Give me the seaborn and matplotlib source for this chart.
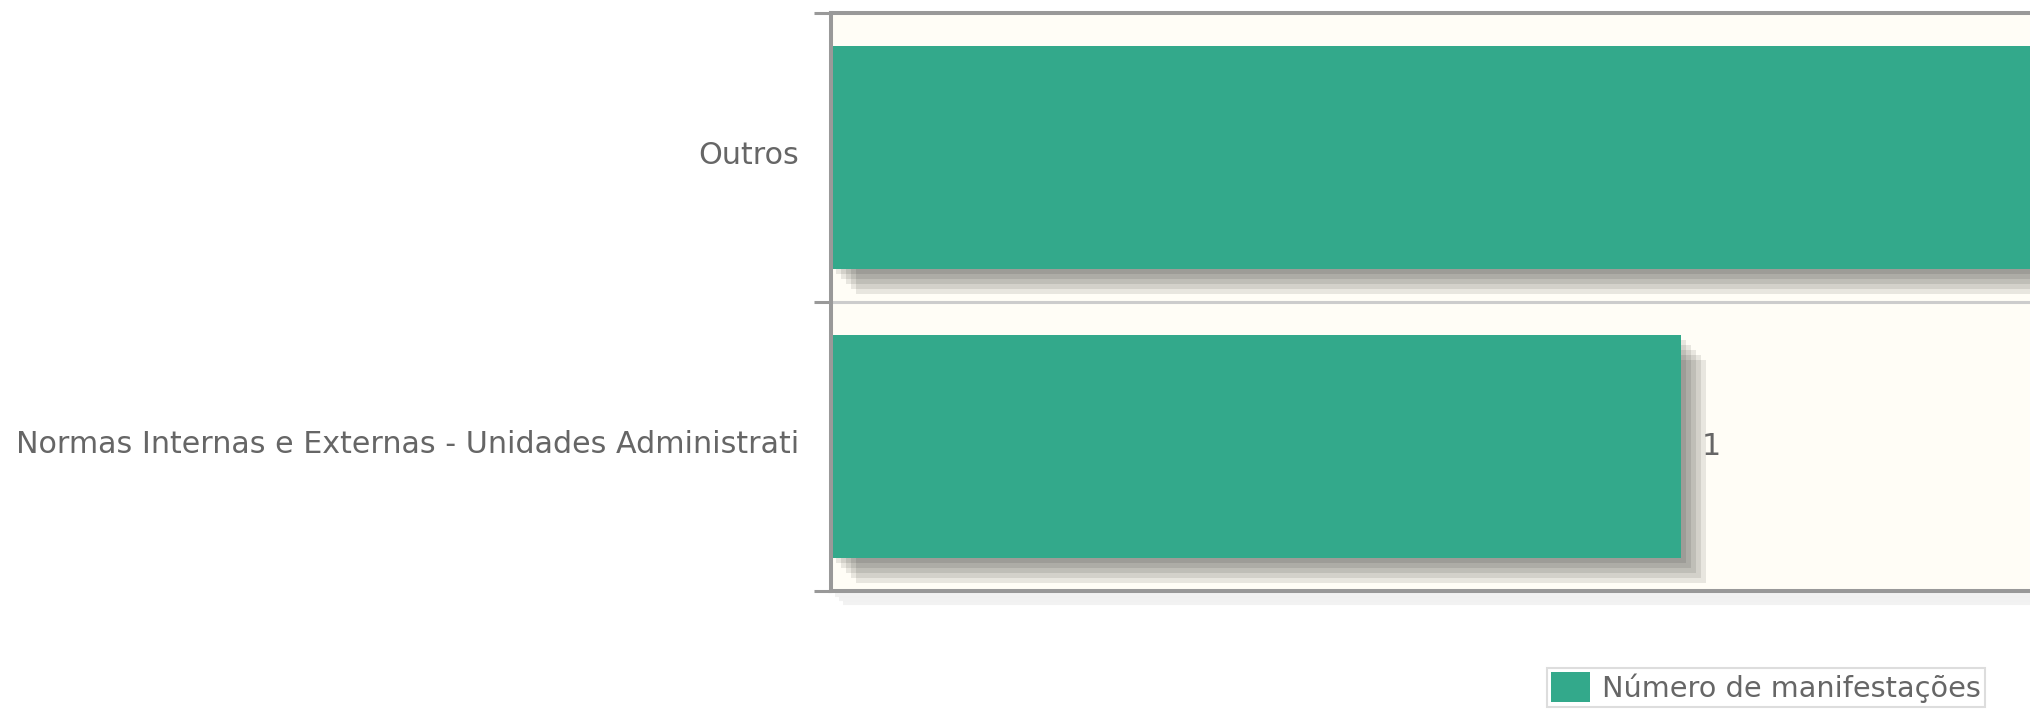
import pandas as pd
import matplotlib
matplotlib.use("Agg")
import matplotlib.pyplot as plt
import matplotlib.transforms as mtransforms
from matplotlib.patches import Rectangle, Patch
import seaborn as sns

# dados
categorias = ["Outros", "Normas Internas e Externas - Unidades Administrati"]
valores = [2, 1]
serie = "Número de manifestações"

# cores
cor_barra = "#33a98b"
cor_texto = "#666666"
cor_borda = "#999999"
cor_grade = "#cccccc"
cor_fundo = "#fffdf6"

sns.set_theme(style="white")
plt.rcParams["font.family"] = ["DejaVu Sans"]
tam_fonte = 21.7

df = pd.DataFrame({"categoria": categorias, "valor": valores})

W, H = 2031, 714
fig = plt.figure(figsize=(W / 100, H / 100), dpi=100)
fig.patch.set_facecolor("white")
# área do gráfico (a direita fica cortada, como na referência)
ax = fig.add_axes([831 / W, 1 - 591 / H, 1870 / W, 578 / H])
ax.set_facecolor(cor_fundo)

sns.barplot(data=df, y="categoria", x="valor", orient="h", color=cor_barra,
            saturation=1, width=0.77, ax=ax, zorder=3, label=serie,
            linewidth=0, edgecolor="none")

# o seaborn cria uma legenda dentro do eixo (fora da figura); usamos a da figura
handles, labels = ax.get_legend_handles_labels()
if ax.get_legend() is not None:
    ax.get_legend().remove()

ax.set_xlim(0, 2.2)
ax.set_ylim(1.5, -0.5)

barras = list(ax.patches)

# sombras das barras (estilo jqplot)
for barra in barras:
    for k in range(1, 6):
        desloc = mtransforms.offset_copy(ax.transData, fig=fig, x=k * 5, y=-k * 5, units="dots")
        ax.add_patch(Rectangle(barra.get_xy(), barra.get_width(), barra.get_height(),
                               transform=desloc, facecolor="black", alpha=0.09,
                               lw=0, zorder=2))

# sombra da borda inferior
for k in range(1, 4):
    desloc = mtransforms.offset_copy(ax.transAxes, fig=fig, x=k * 4, y=-k * 4, units="dots")
    ax.plot([0, 1], [0, 0], transform=desloc, color="black", alpha=0.05, lw=3,
            clip_on=False, zorder=1, solid_capstyle="butt")

# linha de grade entre categorias
ax.axhline(0.5, color=cor_grade, lw=2.2, zorder=1)

# ticks nas divisões, rótulos no centro
ax.set_yticks([-0.5, 0.5, 1.5])
ax.set_yticklabels(["", "", ""])
ax.set_yticks(range(len(categorias)), minor=True)
ax.set_yticklabels(categorias, minor=True)
ax.tick_params(axis="y", which="major", left=True, length=12.5, width=2.2,
               color=cor_borda, direction="out")
ax.tick_params(axis="y", which="minor", left=True, length=0, pad=23,
               labelsize=tam_fonte, labelcolor=cor_texto)
ax.set_xticks([])
ax.set_xlabel("")
ax.set_ylabel("")
# rótulos um pouco acima do centro, como na referência
for rot in ax.get_yticklabels(minor=True):
    rot.set_transform(rot.get_transform() + mtransforms.ScaledTranslation(0, 0.05, fig.dpi_scale_trans))

for lado in ["top", "bottom", "left", "right"]:
    ax.spines[lado].set_color(cor_borda)
    ax.spines[lado].set_linewidth(2.9)
    ax.spines[lado].set_zorder(5)

# rótulo de valor (só para barras cujo fim aparece na figura)
limite_visivel = ax.transData.inverted().transform((W * 0.95, 0))[0]
for barra, v in zip(barras, valores):
    fim = barra.get_x() + barra.get_width()
    if fim < limite_visivel:
        ax.annotate(str(v), (fim, barra.get_y() + barra.get_height() / 2),
                    xytext=(15, 0), textcoords="offset points", ha="left", va="center",
                    fontsize=tam_fonte, color=cor_texto)

# legenda
if not handles:
    handles, labels = [Patch(facecolor=cor_barra)], [serie]
leg = fig.legend(handles[:1], labels[:1], loc="upper left",
                 bbox_to_anchor=(1547 / W, 1 - 668 / H), bbox_transform=fig.transFigure,
                 fontsize=20.7, frameon=True, fancybox=False, framealpha=1,
                 edgecolor="#dddddd", facecolor="white", borderpad=0.15,
                 handlelength=1.35, handleheight=1.2, handletextpad=0.4,
                 borderaxespad=0)
leg.get_frame().set_linewidth(1.5)
for t in leg.get_texts():
    t.set_color(cor_texto)

fig.savefig("out.png", dpi=100, facecolor="white")
